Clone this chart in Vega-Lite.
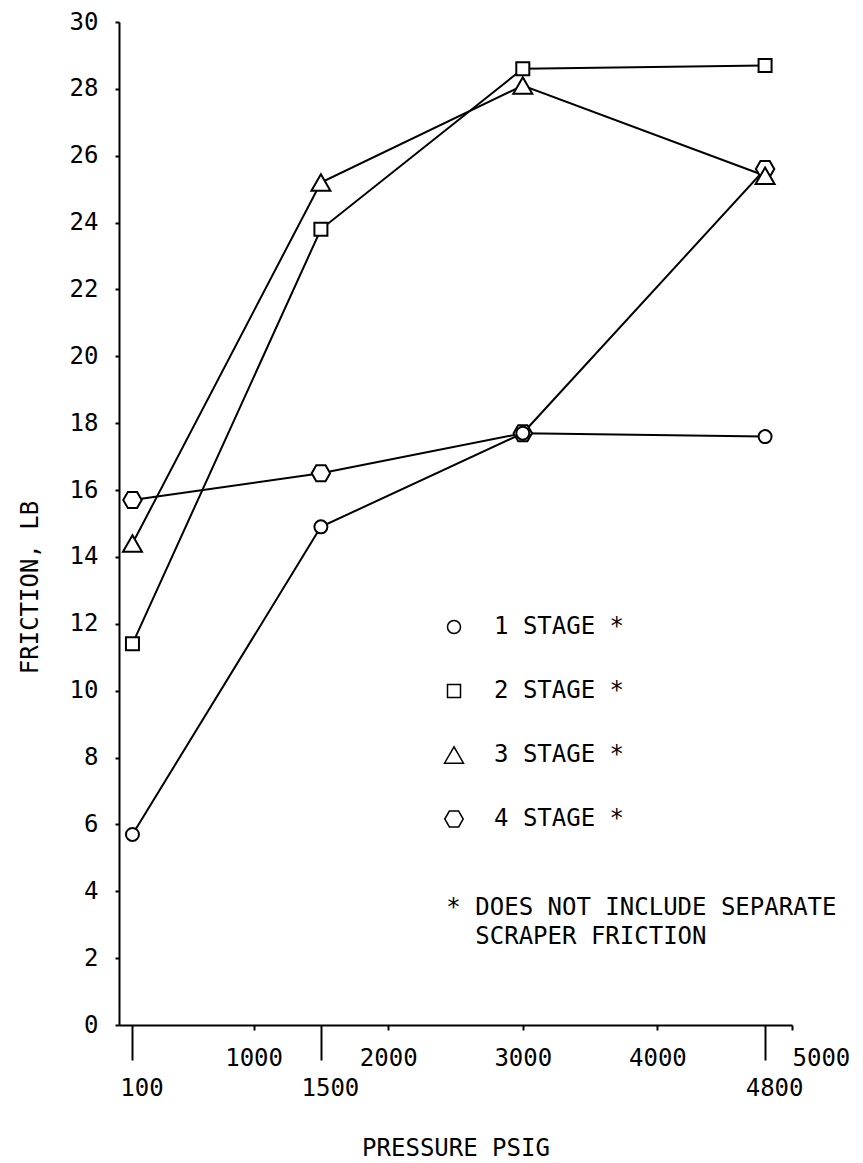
{
  "$schema": "https://vega.github.io/schema/vega-lite/v6.json",
  "width": 673,
  "height": 1003,
  "autosize": {"type": "none"},
  "padding": {"left": 119, "top": 22, "right": 71, "bottom": 138},
  "background": "white",
  "config": {
    "view": {"stroke": null},
    "font": "DejaVu Sans Mono",
    "axis": {
      "labelFont": "DejaVu Sans Mono",
      "labelFontSize": 24,
      "labelColor": "black",
      "titleFont": "DejaVu Sans Mono",
      "titleFontSize": 24,
      "titleFontWeight": "normal",
      "titleColor": "black",
      "domainColor": "black",
      "domainWidth": 2,
      "tickColor": "black",
      "tickWidth": 2,
      "grid": false,
      "labelOverlap": false,
      "labelBound": false,
      "labelFlush": false,
      "format": "d"
    },
    "legend": {
      "labelFont": "DejaVu Sans Mono",
      "labelFontSize": 24,
      "labelColor": "black"
    }
  },
  "data": {
    "values": [
      {"stage": "4 STAGE *", "pressure": 100, "friction": 15.7},
      {"stage": "4 STAGE *", "pressure": 1500, "friction": 16.5},
      {"stage": "4 STAGE *", "pressure": 3000, "friction": 17.7},
      {"stage": "4 STAGE *", "pressure": 4800, "friction": 25.6},
      {"stage": "3 STAGE *", "pressure": 100, "friction": 14.4},
      {"stage": "3 STAGE *", "pressure": 1500, "friction": 25.2},
      {"stage": "3 STAGE *", "pressure": 3000, "friction": 28.1},
      {"stage": "3 STAGE *", "pressure": 4800, "friction": 25.4},
      {"stage": "2 STAGE *", "pressure": 100, "friction": 11.4},
      {"stage": "2 STAGE *", "pressure": 1500, "friction": 23.8},
      {"stage": "2 STAGE *", "pressure": 3000, "friction": 28.6},
      {"stage": "2 STAGE *", "pressure": 4800, "friction": 28.7},
      {"stage": "1 STAGE *", "pressure": 100, "friction": 5.7},
      {"stage": "1 STAGE *", "pressure": 1500, "friction": 14.9},
      {"stage": "1 STAGE *", "pressure": 3000, "friction": 17.7},
      {"stage": "1 STAGE *", "pressure": 4800, "friction": 17.6}
    ]
  },
  "layer": [
    {
      "mark": {"type": "line", "color": "black", "strokeWidth": 2},
      "encoding": {
        "x": {
          "field": "pressure",
          "type": "quantitative",
          "scale": {"domain": [0, 5000], "nice": false, "zero": false},
          "axis": {
            "orient": "bottom",
            "values": [1000, 2000, 3000, 4000, 5000],
            "tickSize": 5,
            "labelPadding": 16,
            "title": null,
            "format": "d",
            "labelAlign": {"condition": {"test": "datum.value == 5000", "value": "left"}, "value": "center"}
          }
        },
        "y": {
          "field": "friction",
          "type": "quantitative",
          "scale": {"domain": [0, 30], "nice": false},
          "axis": {
            "orient": "left",
            "values": [0, 2, 4, 6, 8, 10, 12, 14, 16, 18, 20, 22, 24, 26, 28, 30],
            "tickSize": 4,
            "labelPadding": 17,
            "format": "d",
            "title": "FRICTION, LB",
            "titleX": -89,
            "titleY": 565,
            "titleAngle": -90,
            "titleAlign": "center",
            "titleBaseline": "middle"
          }
        },
        "detail": {"field": "stage"}
      }
    },
    {
      "mark": {"type": "point", "filled": true, "fill": "white", "stroke": "black", "strokeWidth": 2, "opacity": 1},
      "encoding": {
        "x": {
          "field": "pressure",
          "type": "quantitative",
          "axis": {
            "orient": "bottom",
            "values": [100, 1500, 4800],
            "tickSize": 35,
            "domain": false,
            "labelPadding": 16,
            "labelOffset": 9,
            "format": "d",
            "title": "PRESSURE PSIG",
            "titlePadding": 36
          }
        },
        "y": {
          "field": "friction",
          "type": "quantitative",
          "axis": {
            "orient": "left",
            "values": [0, 2, 4, 6, 8, 10, 12, 14, 16, 18, 20, 22, 24, 26, 28, 30],
            "tickSize": 4,
            "labelPadding": 17,
            "format": "d",
            "title": "FRICTION, LB",
            "titleX": -89,
            "titleY": 565,
            "titleAngle": -90,
            "titleAlign": "center",
            "titleBaseline": "middle"
          }
        },
        "shape": {
          "field": "stage",
          "type": "ordinal",
          "scale": {
            "type": "ordinal",
            "domain": ["1 STAGE *", "2 STAGE *", "3 STAGE *", "4 STAGE *"],
            "range": ["circle", "square", "triangle-up", "M-1,0L-0.5,-0.866L0.5,-0.866L1,0L0.5,0.866L-0.5,0.866Z"]
          },
          "legend": {
            "orient": "none",
            "legendX": 323,
            "legendY": 593,
            "title": null,
            "rowPadding": 40,
            "labelOffset": 28,
            "padding": 0,
            "encode": {"symbols": {"update": {"fill": {"value": "white"}, "stroke": {"value": "black"}, "strokeWidth": {"value": 2}, "opacity": {"value": 1}}}}
          }
        },
        "size": {
          "field": "stage",
          "type": "ordinal",
          "scale": {
            "type": "ordinal",
            "domain": ["1 STAGE *", "2 STAGE *", "3 STAGE *", "4 STAGE *"],
            "range": [169, 169, 360, 340]
          },
          "legend": {
            "orient": "none",
            "legendX": 323,
            "legendY": 593,
            "title": null,
            "rowPadding": 40,
            "labelOffset": 28,
            "padding": 0,
            "encode": {"symbols": {"update": {"fill": {"value": "white"}, "stroke": {"value": "black"}, "strokeWidth": {"value": 2}, "opacity": {"value": 1}}}}
          }
        }
      }
    },
    {
      "data": {"values": [{}]},
      "mark": {
        "type": "text",
        "align": "left",
        "baseline": "alphabetic",
        "font": "DejaVu Sans Mono",
        "fontSize": 24,
        "color": "black"
      },
      "encoding": {
        "x": {"datum": 2431, "type": "quantitative", "axis": null},
        "y": {
          "datum": 3.29,
          "type": "quantitative",
          "axis": {
            "orient": "left",
            "values": [0, 2, 4, 6, 8, 10, 12, 14, 16, 18, 20, 22, 24, 26, 28, 30],
            "tickSize": 4,
            "labelPadding": 17,
            "format": "d",
            "title": "FRICTION, LB",
            "titleX": -89,
            "titleY": 565,
            "titleAngle": -90,
            "titleAlign": "center",
            "titleBaseline": "middle"
          }
        },
        "text": {"value": "*"}
      }
    },
    {
      "data": {"values": [{}]},
      "mark": {
        "type": "text",
        "align": "left",
        "baseline": "alphabetic",
        "font": "DejaVu Sans Mono",
        "fontSize": 24,
        "lineHeight": 29,
        "color": "black"
      },
      "encoding": {
        "x": {"datum": 2647, "type": "quantitative", "axis": null},
        "y": {
          "datum": 3.29,
          "type": "quantitative",
          "axis": {
            "orient": "left",
            "values": [0, 2, 4, 6, 8, 10, 12, 14, 16, 18, 20, 22, 24, 26, 28, 30],
            "tickSize": 4,
            "labelPadding": 17,
            "format": "d",
            "title": "FRICTION, LB",
            "titleX": -89,
            "titleY": 565,
            "titleAngle": -90,
            "titleAlign": "center",
            "titleBaseline": "middle"
          }
        },
        "text": {"value": ["DOES NOT INCLUDE SEPARATE", "SCRAPER FRICTION"]}
      }
    }
  ],
  "resolve": {"axis": {"x": "independent"}}
}
